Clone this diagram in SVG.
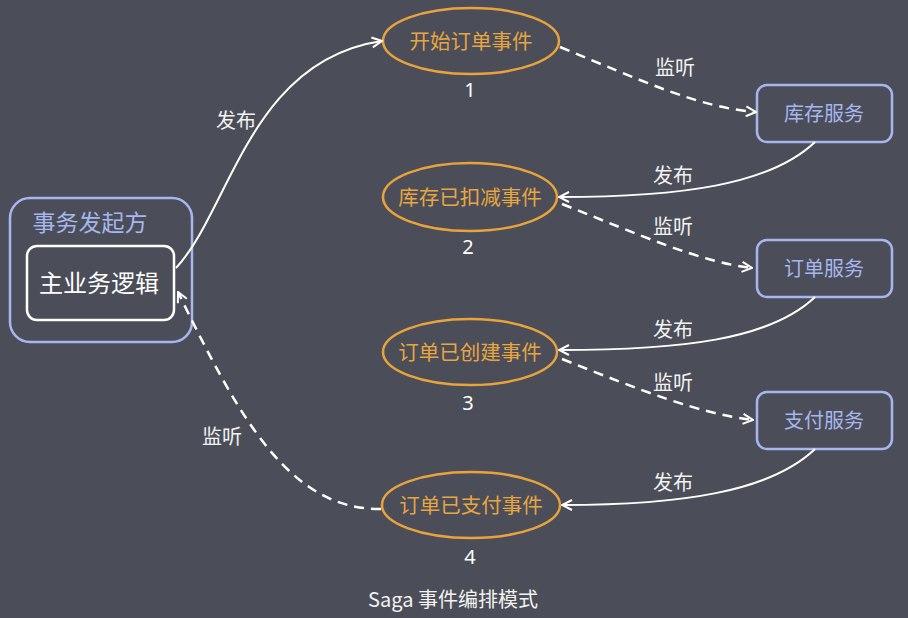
<svg xmlns="http://www.w3.org/2000/svg" width="908" height="618" viewBox="0 0 908 618">
<defs>
<marker id="arr" viewBox="0 0 12 12" refX="11" refY="6" markerWidth="12" markerHeight="12" markerUnits="userSpaceOnUse" orient="auto">
<path d="M1,1 L11,6 L1,11" fill="none" stroke="#ffffff" stroke-width="2"/>
</marker>
<style>
.bg{fill:#4b4e58}
.ev{fill:none;stroke:#e8a33c;stroke-width:2.5}
.evt{fill:#e8a640;font-family:"Noto Sans CJK SC","Noto Sans",sans-serif;font-size:20.5px;text-anchor:middle}
.num{fill:#ffffff;font-family:"Noto Sans","Noto Sans CJK SC",sans-serif;font-size:20px;text-anchor:middle}
.svc{fill:none;stroke:#a7b6ee;stroke-width:2.5}
.svt{fill:#a7b6ee;font-family:"Noto Sans CJK SC","Noto Sans",sans-serif;font-size:20px;text-anchor:middle}
.lbl{fill:#f2f2f2;font-family:"Noto Sans CJK SC","Noto Sans",sans-serif;font-size:20px;text-anchor:middle}
.solid{fill:none;stroke:#ffffff;stroke-width:2;marker-end:url(#arr)}
.dash{fill:none;stroke:#ffffff;stroke-width:2.5;stroke-dasharray:10,7;marker-end:url(#arr)}
</style>
</defs>
<rect class="bg" x="0" y="0" width="908" height="618"/>
<g id="initiator">
<rect x="10" y="198" width="182" height="144" rx="20" class="svc"/>
<text x="90" y="231" style="fill:#a7b6ee;font-family:'Noto Sans CJK SC',sans-serif;font-size:23px;text-anchor:middle">事务发起方</text>
</g>
<g id="main-logic">
<rect x="27" y="246" width="147" height="74" rx="10" fill="none" stroke="#ffffff" stroke-width="2.5"/>
<text x="99" y="292" style="fill:#ffffff;font-family:'Noto Sans CJK SC',sans-serif;font-size:24px;text-anchor:middle">主业务逻辑</text>
</g>
<g id="event1">
<ellipse cx="471" cy="41" rx="88" ry="33" class="ev"/>
<text x="471" y="49" class="evt">开始订单事件</text>
<text x="470" y="97" class="num">1</text>
</g>
<g id="event2">
<ellipse cx="470" cy="197" rx="87" ry="34" class="ev"/>
<text x="470" y="205" class="evt">库存已扣减事件</text>
<text x="468" y="254" class="num">2</text>
</g>
<g id="event3">
<ellipse cx="470" cy="352" rx="87" ry="33" class="ev"/>
<text x="470" y="360" class="evt">订单已创建事件</text>
<text x="468" y="410" class="num">3</text>
</g>
<g id="event4">
<ellipse cx="471" cy="505" rx="89" ry="33" class="ev"/>
<text x="471" y="513" class="evt">订单已支付事件</text>
<text x="470" y="564" class="num">4</text>
</g>
<g id="svc-inventory">
<rect x="757" y="85" width="135" height="57" rx="10" class="svc"/>
<text x="824" y="121" class="svt">库存服务</text>
</g>
<g id="svc-order">
<rect x="757" y="240" width="135" height="57" rx="10" class="svc"/>
<text x="824" y="276" class="svt">订单服务</text>
</g>
<g id="svc-pay">
<rect x="757" y="392" width="135" height="57" rx="10" class="svc"/>
<text x="824" y="428" class="svt">支付服务</text>
</g>
<g id="connectors">
<path class="solid" d="M176,268 C230,210 250,60 382,41"/>
<path class="dash" d="M560,47 C640,80 700,108 756,112"/>
<path class="solid" d="M815,142 C770,185 680,197 559,197"/>
<path class="dash" d="M562,204 C640,235 700,262 752,268"/>
<path class="solid" d="M815,297 C770,340 680,350 559,350"/>
<path class="dash" d="M562,359 C640,390 700,414 753,420"/>
<path class="solid" d="M815,449 C770,492 680,505 562,505"/>
<path class="dash" d="M381,509 C290,510 240,420 178,292"/>
<text x="236" y="128" class="lbl">发布</text>
<text x="675" y="75" class="lbl">监听</text>
<text x="673" y="183" class="lbl">发布</text>
<text x="673" y="234" class="lbl">监听</text>
<text x="673" y="337" class="lbl">发布</text>
<text x="673" y="390" class="lbl">监听</text>
<text x="673" y="490" class="lbl">发布</text>
<text x="222" y="444" class="lbl">监听</text>
</g>
<text x="453" y="607" class="lbl" style="font-size:20px">Saga 事件编排模式</text>
</svg>
